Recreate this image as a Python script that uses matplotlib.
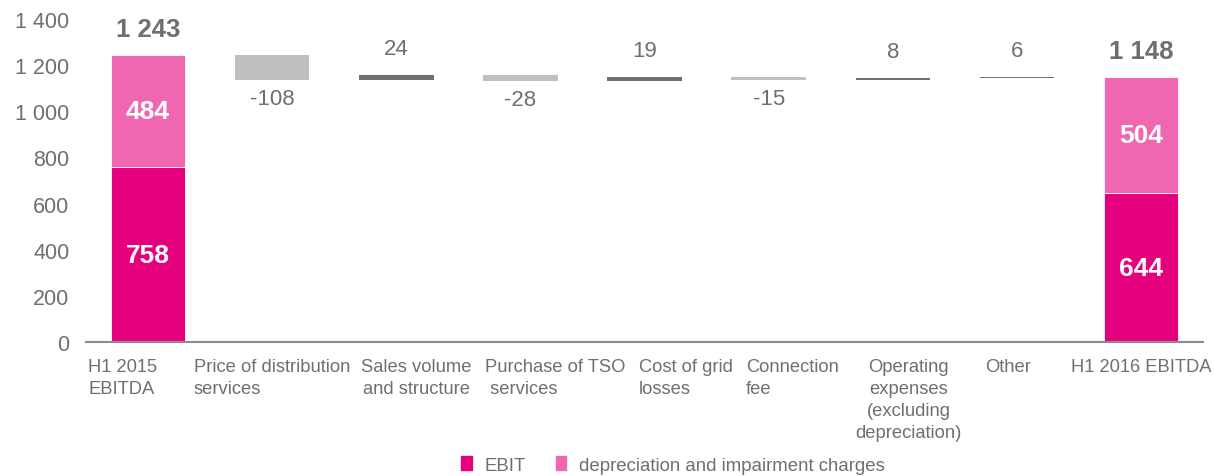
import numpy as np
import matplotlib.pyplot as plt
from matplotlib.patches import Patch

plt.rcParams["font.family"] = ["Liberation Sans", "DejaVu Sans"]

categories = [
    "H1 2015\nEBITDA",
    "Price of distribution\nservices",
    "Sales volume\nand structure",
    "Purchase of TSO\n services",
    "Cost of grid\nlosses",
    "Connection\nfee",
    "Operating\nexpenses\n(excluding\ndepreciation)",
    "Other",
    "H1 2016 EBITDA",
]
ebit = [758, 644]
depreciation = [484, 504]
totals = [1243, 1148]
changes = [-108, 24, -28, 19, -15, 8, 6]
yticks = [0, 200, 400, 600, 800, 1000, 1200, 1400]

# label layout: (pixel offset from category centre, alignment, line alignment)
label_layout = [(-60, "left", "left"), (0, "center", "left"),
                (20, "center", "center"), (-35, "left", "left"),
                (-6, "left", "left"), (-23, "left", "left"),
                (16, "center", "center"), (-9, "center", "center"),
                (0, "center", "center")]

c_ebit = "#e5007d"
c_dep = "#ee67b0"
c_up = "#6f6f6f"
c_down = "#bfbfbf"
c_text = "#6f6f6f"

fig = plt.figure(figsize=(12.14, 4.77), dpi=100)
ax = fig.add_axes([0.0708, 0.281, 0.9202, 0.677])

x = np.arange(len(categories))
w = 0.6

# totals (stacked)
ends = [0, len(categories) - 1]
ax.bar(ends, ebit, width=w, color=c_ebit, edgecolor="white", linewidth=0.6)
ax.bar(ends, depreciation, bottom=ebit, width=w, color=c_dep,
       edgecolor="white", linewidth=0.6)
for xi, e, d, t in zip(ends, ebit, depreciation, totals):
    ax.text(xi, e / 2, str(e), ha="center", va="center", color="white",
            fontsize=19, fontweight="bold")
    ax.text(xi, e + d / 2, str(d), ha="center", va="center", color="white",
            fontsize=19, fontweight="bold")
    ax.annotate(f"{t:,}".replace(",", " "), xy=(xi, e + d), xytext=(0, 14),
                textcoords="offset pixels", ha="center", va="bottom",
                color=c_text, fontsize=18.5, fontweight="bold")

# bridge steps
level = totals[0]
for i, ch in enumerate(changes, start=1):
    bottom = level if ch > 0 else level + ch
    ax.bar(i, abs(ch), bottom=bottom, width=w,
           color=c_up if ch > 0 else c_down, linewidth=0)
    if ch > 0:
        ax.annotate(str(ch), xy=(i, level + ch), xytext=(0, 16),
                    textcoords="offset pixels", ha="center", va="bottom",
                    color=c_text, fontsize=16)
    else:
        ax.annotate(str(ch), xy=(i, level + ch), xytext=(0, -8),
                    textcoords="offset pixels", ha="center", va="top",
                    color=c_text, fontsize=16)
    level += ch

ax.set_xlim(-0.5, len(categories) - 0.5)
ax.set_ylim(0, 1400)
ax.set_yticks(yticks)
ax.set_yticklabels([f"{v:,}".replace(",", " ") for v in yticks])
ax.tick_params(axis="y", length=0, pad=12, labelsize=15.5, labelcolor=c_text)
ax.set_xticks([])
for s in ["top", "right", "left"]:
    ax.spines[s].set_visible(False)
ax.spines["bottom"].set_color("#8c8c8c")
ax.spines["bottom"].set_linewidth(1.5)

for i, (lab, (dx, ha, ma)) in enumerate(zip(categories, label_layout)):
    ax.annotate(lab, xy=(i, 0), xycoords=("data", "axes fraction"),
                xytext=(dx, -16), textcoords="offset pixels", ha=ha, va="top",
                multialignment=ma, color=c_text, fontsize=13.2,
                linespacing=1.38)

handles = [Patch(color=c_ebit, label="EBIT"),
           Patch(color=c_dep, label="depreciation and impairment charges")]
fig.legend(handles=handles, loc="lower center", bbox_to_anchor=(0.5545, -0.03),
           ncol=2, frameon=False, handlelength=0.55, handleheight=0.75,
           handletextpad=0.7, columnspacing=1.6, fontsize=13.4,
           labelcolor=c_text)

fig.savefig("out.png", dpi=100)
